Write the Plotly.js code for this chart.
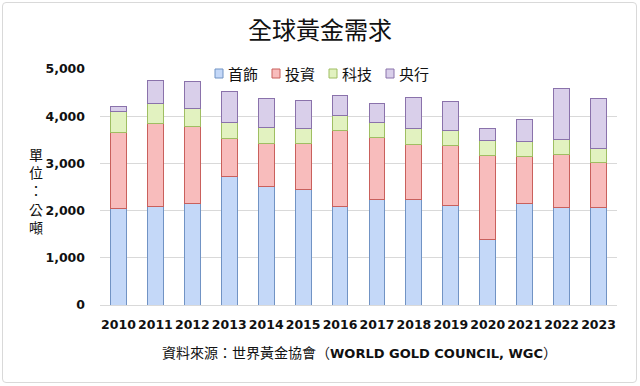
<!DOCTYPE html>
<html>
<head>
<meta charset="utf-8">
<script src="https://cdn.plot.ly/plotly-3.0.1.min.js"></script>
<style>
html,body{margin:0;padding:0;background:#fff;}
#wrap{position:relative;width:640px;height:386px;}
#chart{width:640px;height:386px;}
#frame{position:absolute;left:2px;top:2px;width:633px;height:379px;border:1px solid #d9d9d9;border-radius:4px;pointer-events:none;}
</style>
</head>
<body>
<div id="wrap"><div id="chart"></div><div id="frame"></div></div>
<script>
const years = ['2010','2011','2012','2013','2014','2015','2016','2017','2018','2019','2020','2021','2022','2023'];
const jewelry = [2035, 2085, 2140, 2720, 2520, 2445, 2085, 2230, 2230, 2110, 1390, 2140, 2070, 2070];
const investment = [1625, 1750, 1640, 800, 905, 975, 1615, 1315, 1175, 1265, 1785, 1005, 1125, 955];
const technology = [450, 425, 375, 340, 345, 325, 325, 325, 325, 325, 305, 315, 305, 295];
const centralBanks = [90, 500, 570, 655, 610, 595, 415, 395, 670, 620, 270, 465, 1095, 1050];
const seriesNames = ['首飾', '投資', '科技', '央行'];
const yTickVals = [0, 1000, 2000, 3000, 4000, 5000];
const yTickText = ['0', '1,000', '2,000', '3,000', '4,000', '5,000'];
const yTitle = '單位：公噸';

const fills = ['#c4d8f8', '#f8bcbc', '#e2f2c0', '#d9cfea'];
const lines = ['#7193c4', '#c9605c', '#9fbe62', '#8a72ab'];
const data = [jewelry, investment, technology, centralBanks].map((v, i) => ({
  type: 'bar', x: years, y: v, name: seriesNames[i],
  marker: {color: fills[i], line: {color: lines[i], width: 1}},
  hoverinfo: 'y', showlegend: false
}));

const cjk = '"Noto Sans CJK TC", "Noto Sans CJK SC", sans-serif';
const num = '"DejaVu Sans", sans-serif';
// plot area in pixels: left 100, width 517, top 69, height 236
const px = p => (p - 100) / 517;
const py = p => (305 - p) / 236;

const shapes = [];
const annotations = [];
// manual compact legend
seriesNames.forEach((n, i) => {
  const x0 = 215 + i * 57;
  shapes.push({type: 'rect', xref: 'paper', yref: 'paper', x0: px(x0), x1: px(x0 + 8), y0: py(78), y1: py(69),
    fillcolor: fills[i], line: {color: lines[i], width: 1}});
  annotations.push({text: n, xref: 'paper', yref: 'paper', x: px(x0 + 11), y: py(73.5), xanchor: 'left', yanchor: 'middle',
    showarrow: false, font: {family: cjk, size: 15, color: '#111'}});
});
// vertical y-axis title
annotations.push({text: Array.from(yTitle).join('<br>'), xref: 'paper', yref: 'paper', x: px(36), y: py(190), xanchor: 'center', yanchor: 'middle',
  showarrow: false, align: 'center', font: {family: cjk, size: 14, color: '#111'}});
annotations.push({text: '資料來源：世界黃金協會（<span style="font-family:DejaVu Sans;font-weight:bold;font-size:13px">WORLD GOLD COUNCIL, WGC</span>）',
  xref: 'paper', yref: 'paper', x: px(359), y: py(352), xanchor: 'center', yanchor: 'middle',
  showarrow: false, font: {family: cjk, size: 14, color: '#111'}});

const layout = {
  width: 640, height: 386,
  margin: {l: 100, r: 23, t: 69, b: 81},
  paper_bgcolor: '#ffffff', plot_bgcolor: '#ffffff',
  barmode: 'stack', bargap: 0.57,
  title: {text: '全球黃金需求', font: {family: cjk, size: 24, color: '#111'}, x: 0.5, xanchor: 'center', y: 1 - 31/386, yanchor: 'middle'},
  xaxis: {type: 'category', tickangle: 0, tickfont: {family: num, size: 12.5, color: '#111', weight: 'bold'},
          showgrid: false, showline: false, ticks: '', ticklen: 0, ticklabelstandoff: 10},
  yaxis: {range: [0, 5000], tickvals: yTickVals, ticktext: yTickText,
          tickfont: {family: num, size: 12.5, color: '#111', weight: 'bold'},
          gridcolor: '#d9d9d9', gridwidth: 1, zeroline: true, zerolinecolor: '#d9d9d9', showline: false, ticks: '', ticklabelstandoff: 14},
  showlegend: false,
  shapes: shapes,
  annotations: annotations
};
Plotly.newPlot('chart', data, layout, {displayModeBar: false, staticPlot: true});
</script>
</body>
</html>
